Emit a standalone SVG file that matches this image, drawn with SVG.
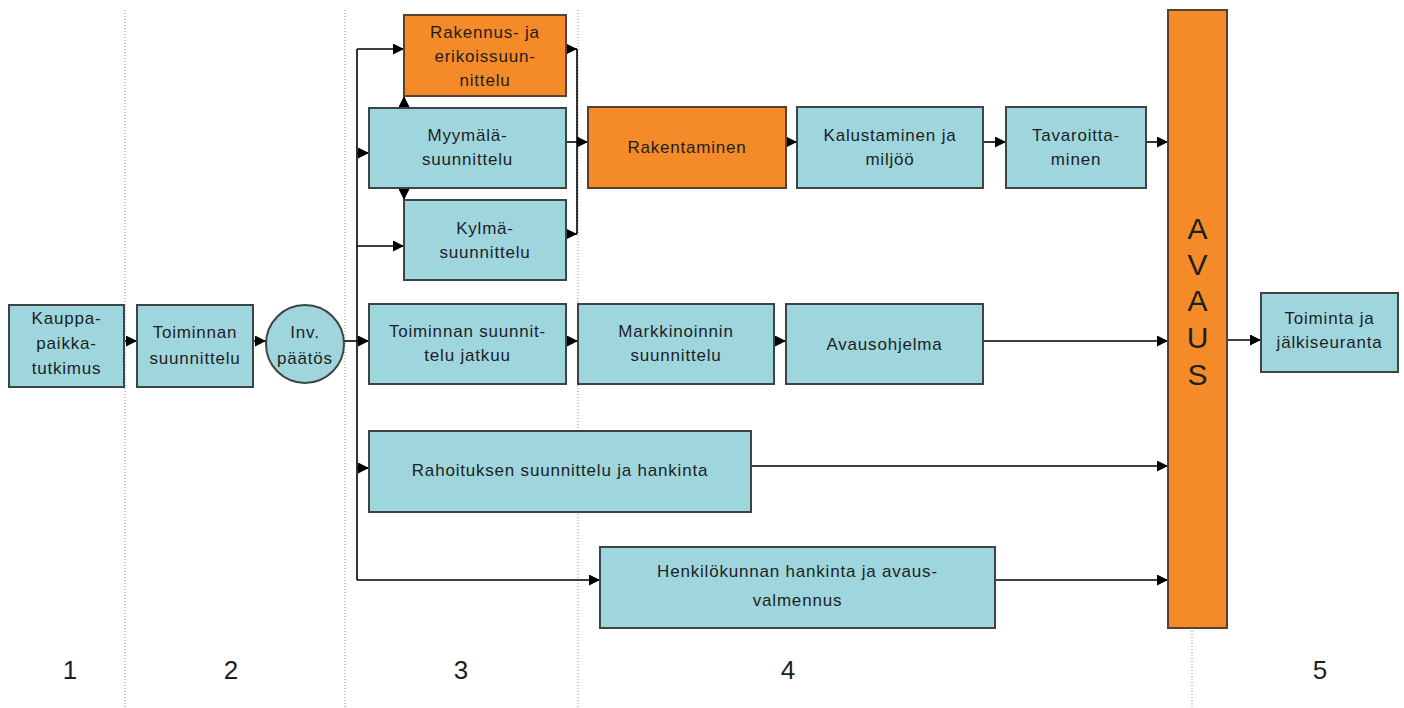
<svg xmlns="http://www.w3.org/2000/svg" width="1404" height="708" viewBox="0 0 1404 708">
<style>
.t{fill:#9fd6de;stroke:#3c4446;stroke-width:2}
.o{fill:#f58b28;stroke:#5a4030;stroke-width:2}
.tx{font-family:"Liberation Sans",Arial,sans-serif;font-size:17px;letter-spacing:0.8px;fill:#1e1e1e;text-anchor:middle}
.big{font-family:"Liberation Sans",Arial,sans-serif;font-size:30px;fill:#1e1e1e;text-anchor:middle}
.num{font-family:"Liberation Sans",Arial,sans-serif;font-size:26px;fill:#1e1e1e;text-anchor:middle}
.dot{stroke:#8c8c8c;stroke-width:1;stroke-dasharray:1 2;fill:none}
.c{stroke:#000;stroke-width:1.6;fill:none}
</style>
<defs>
<marker id="a" viewBox="0 0 10 10" refX="10" refY="5" markerWidth="11" markerHeight="11" markerUnits="userSpaceOnUse" orient="auto"><path d="M0,0 L10,5 L0,10 z" fill="#000"/></marker>
</defs>
<rect width="1404" height="708" fill="#fff"/>
<g id="dividers">
<line class="dot" x1="125" y1="10" x2="125" y2="708"/>
<line class="dot" x1="345" y1="10" x2="345" y2="708"/>
<line class="dot" x1="578" y1="10" x2="578" y2="708"/>
<line class="dot" x1="1192" y1="10" x2="1192" y2="708"/>
</g>
<g id="connectors">
<line class="c" x1="124" y1="341" x2="137" y2="341" marker-end="url(#a)"/>
<line class="c" x1="253" y1="341" x2="266" y2="341" marker-end="url(#a)"/>
<line class="c" x1="344" y1="341" x2="369" y2="341" marker-end="url(#a)"/>
<line class="c" x1="357" y1="49" x2="357" y2="580"/>
<line class="c" x1="357" y1="49" x2="404" y2="49" marker-end="url(#a)"/>
<line class="c" x1="357" y1="153" x2="369" y2="153" marker-end="url(#a)"/>
<line class="c" x1="357" y1="246" x2="404" y2="246" marker-end="url(#a)"/>
<line class="c" x1="357" y1="468" x2="369" y2="468" marker-end="url(#a)"/>
<line class="c" x1="357" y1="580" x2="600" y2="580" marker-end="url(#a)"/>
<line class="c" x1="404" y1="108" x2="404" y2="96" marker-end="url(#a)"/>
<line class="c" x1="404" y1="188" x2="404" y2="200" marker-end="url(#a)"/>
<line class="c" x1="566" y1="49" x2="577" y2="49" marker-end="url(#a)"/>
<line class="c" x1="566" y1="234" x2="577" y2="234" marker-end="url(#a)"/>
<line class="c" x1="577" y1="49" x2="577" y2="234"/>
<line class="c" x1="566" y1="142" x2="588" y2="142" marker-end="url(#a)"/>
<line class="c" x1="786" y1="142" x2="797" y2="142" marker-end="url(#a)"/>
<line class="c" x1="983" y1="142" x2="1006" y2="142" marker-end="url(#a)"/>
<line class="c" x1="1146" y1="142" x2="1168" y2="142" marker-end="url(#a)"/>
<line class="c" x1="566" y1="341" x2="578" y2="341" marker-end="url(#a)"/>
<line class="c" x1="774" y1="341" x2="786" y2="341" marker-end="url(#a)"/>
<line class="c" x1="983" y1="341" x2="1168" y2="341" marker-end="url(#a)"/>
<line class="c" x1="751" y1="466" x2="1168" y2="466" marker-end="url(#a)"/>
<line class="c" x1="995" y1="580" x2="1168" y2="580" marker-end="url(#a)"/>
<line class="c" x1="1227" y1="340" x2="1261" y2="340" marker-end="url(#a)"/>
</g>
<g id="n-kauppa"><rect class="t" x="9" y="305" width="115" height="82"/>
<text class="tx" x="66.5" y="324">Kauppa-</text><text class="tx" x="66.5" y="349">paikka-</text><text class="tx" x="66.5" y="374">tutkimus</text></g>
<g id="n-toiminnan"><rect class="t" x="137" y="305" width="116" height="82"/>
<text class="tx" x="195" y="338">Toiminnan</text><text class="tx" x="195" y="364">suunnittelu</text></g>
<g id="n-inv"><circle class="t" cx="305" cy="344" r="39"/>
<text class="tx" x="305" y="338">Inv.</text><text class="tx" x="305" y="364">päätös</text></g>
<g id="n-rakennus"><rect class="o" x="404" y="15" width="162" height="81"/>
<text class="tx" x="485" y="38">Rakennus- ja</text><text class="tx" x="485" y="62">erikoissuun-</text><text class="tx" x="485" y="86">nittelu</text></g>
<g id="n-myymala"><rect class="t" x="369" y="108" width="197" height="80"/>
<text class="tx" x="467.5" y="141">Myymälä-</text><text class="tx" x="467.5" y="165">suunnittelu</text></g>
<g id="n-kylma"><rect class="t" x="404" y="200" width="162" height="80"/>
<text class="tx" x="485" y="234">Kylmä-</text><text class="tx" x="485" y="258">suunnittelu</text></g>
<g id="n-rakentaminen"><rect class="o" x="588" y="107" width="198" height="81"/>
<text class="tx" x="687" y="153">Rakentaminen</text></g>
<g id="n-kalustaminen"><rect class="t" x="797" y="107" width="186" height="81"/>
<text class="tx" x="890" y="141">Kalustaminen ja</text><text class="tx" x="890" y="165">miljöö</text></g>
<g id="n-tavaroitta"><rect class="t" x="1006" y="107" width="140" height="81"/>
<text class="tx" x="1076" y="141">Tavaroitta-</text><text class="tx" x="1076" y="165">minen</text></g>
<g id="n-toimsuun"><rect class="t" x="369" y="304" width="197" height="80"/>
<text class="tx" x="467.5" y="337">Toiminnan suunnit-</text><text class="tx" x="467.5" y="361">telu jatkuu</text></g>
<g id="n-markkinointi"><rect class="t" x="578" y="304" width="196" height="80"/>
<text class="tx" x="676" y="337">Markkinoinnin</text><text class="tx" x="676" y="361">suunnittelu</text></g>
<g id="n-avausohjelma"><rect class="t" x="786" y="304" width="197" height="80"/>
<text class="tx" x="884.5" y="350">Avausohjelma</text></g>
<g id="n-rahoitus"><rect class="t" x="369" y="431" width="382" height="81"/>
<text class="tx" x="560" y="476">Rahoituksen suunnittelu ja hankinta</text></g>
<g id="n-henkilo"><rect class="t" x="600" y="547" width="395" height="81"/>
<text class="tx" x="797.5" y="577">Henkilökunnan hankinta ja avaus-</text><text class="tx" x="797.5" y="606">valmennus</text></g>
<g id="n-avaus"><rect class="o" x="1168" y="10" width="59" height="618"/>
<text class="big" x="1197.5" y="239">A</text><text class="big" x="1197.5" y="275">V</text><text class="big" x="1197.5" y="311">A</text><text class="big" x="1197.5" y="348">U</text><text class="big" x="1197.5" y="385">S</text></g>
<g id="n-toiminta"><rect class="t" x="1261" y="293" width="137" height="79"/>
<text class="tx" x="1329.5" y="324">Toiminta ja</text><text class="tx" x="1329.5" y="348">jälkiseuranta</text></g>
<g id="phases">
<text class="num" x="70" y="679">1</text>
<text class="num" x="231" y="679">2</text>
<text class="num" x="461" y="679">3</text>
<text class="num" x="788" y="679">4</text>
<text class="num" x="1320" y="679">5</text>
</g>
</svg>
